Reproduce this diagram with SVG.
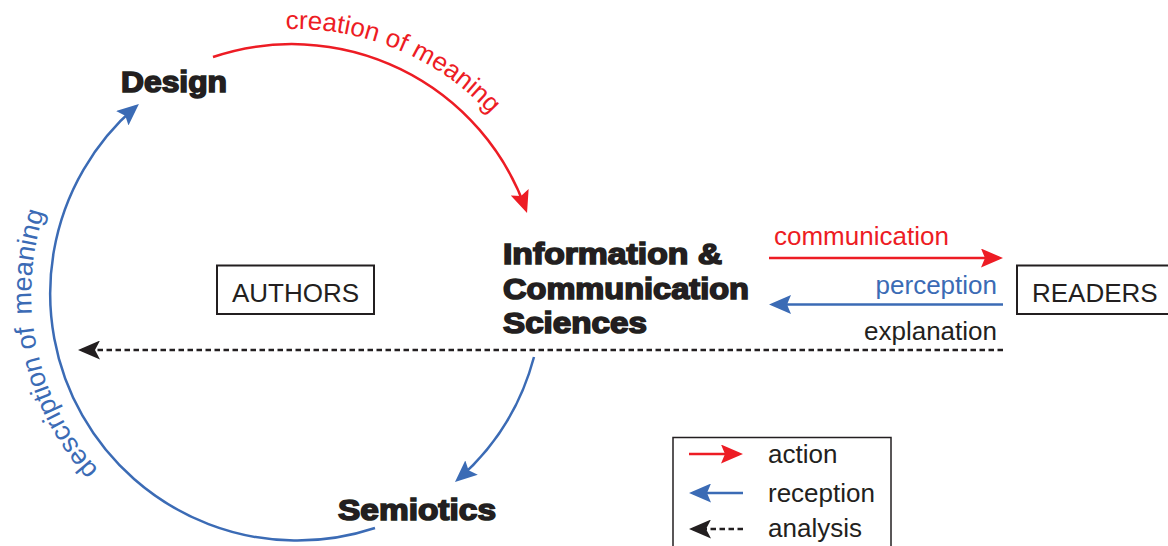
<svg xmlns="http://www.w3.org/2000/svg" width="1168" height="546" viewBox="0 0 1168 546">
<style>
.t{font-family:"Liberation Sans",Arial,sans-serif;font-size:26px;fill:#231f20}
.b{font-family:"Liberation Sans",Arial,sans-serif;font-size:29px;font-weight:bold;fill:#231f20;stroke:#231f20;stroke-width:1.6px}
.red{fill:#ed1c24}
.blue{fill:#3b6bb5}
.lr{fill:none;stroke:#ed1c24;stroke-width:2.5}
.lb{fill:none;stroke:#3b6bb5;stroke-width:2.5}
.lk{fill:none;stroke:#231f20;stroke-width:2.4;stroke-dasharray:5.5 3.5}
.box{fill:#fff;stroke:#231f20;stroke-width:2}
</style>
<defs>
<marker id="aR" markerUnits="userSpaceOnUse" viewBox="0 0 22 19" markerWidth="22" markerHeight="19" refX="18" refY="9.5" orient="auto"><path d="M0,0 L22,9.5 L0,19 L4,9.5 z" fill="#ed1c24"/></marker>
<marker id="aB" markerUnits="userSpaceOnUse" viewBox="0 0 22 19" markerWidth="22" markerHeight="19" refX="18" refY="9.5" orient="auto"><path d="M0,0 L22,9.5 L0,19 L4,9.5 z" fill="#3b6bb5"/></marker>
<marker id="aK" markerUnits="userSpaceOnUse" viewBox="0 0 22 19" markerWidth="22" markerHeight="19" refX="18" refY="9.5" orient="auto"><path d="M0,0 L22,9.5 L0,19 L5,9.5 z" fill="#231f20"/></marker>
<path id="pCreate" d="M285.7,29.2 A266,266 0 0,1 552,226"/>
<path id="pDesc" d="M98.5,470 A265,265 0 0,1 79,142"/>
</defs>

<g id="connectors">
<path id="c-creation" class="lr" d="M213,57 A248,248 0 0,1 525.7,209.2" marker-end="url(#aR)"/>
<path id="c-ics-semiotics" class="lb" d="M534,357 A247,247 0 0,1 458,479.4" marker-end="url(#aB)"/>
<path id="c-description" class="lb" d="M375,528 A247,247 0 0,1 135.9,106.5" marker-end="url(#aB)"/>
<path id="c-communication" class="lr" d="M769,258 L999,258" marker-end="url(#aR)"/>
<path id="c-perception" class="lb" d="M1003,304.5 L773,304.5" marker-end="url(#aB)"/>
<path id="c-explanation" class="lk" d="M1003,350 L82,350" marker-end="url(#aK)"/>
<text class="t red"><textPath href="#pCreate">creation of meaning</textPath></text>
<text class="t blue" style="font-size:27px"><textPath href="#pDesc">description of <tspan dx="4">meaning</tspan></textPath></text>
<text class="t red" x="774" y="245">communication</text>
<text class="t blue" x="997" y="294" text-anchor="end">perception</text>
<text class="t" x="997" y="340" text-anchor="end">explanation</text>
</g>

<g id="design"><text class="b" x="121" y="92" textLength="106" lengthAdjust="spacingAndGlyphs">Design</text></g>
<g id="ics">
<text class="b" x="503" y="264" textLength="219" lengthAdjust="spacingAndGlyphs">Information &amp;</text>
<text class="b" x="503" y="299" textLength="246" lengthAdjust="spacingAndGlyphs">Communication</text>
<text class="b" x="503" y="333" textLength="144" lengthAdjust="spacingAndGlyphs">Sciences</text>
</g>
<g id="semiotics"><text class="b" x="338" y="520" textLength="158" lengthAdjust="spacingAndGlyphs">Semiotics</text></g>

<g id="authors">
<rect class="box" x="217" y="265.5" width="157" height="48.5"/>
<text class="t" x="295.5" y="302" text-anchor="middle">AUTHORS</text>
</g>
<g id="readers">
<rect class="box" x="1017" y="265.5" width="170" height="48.5"/>
<text class="t" x="1032" y="302">READERS</text>
</g>

<g id="legend">
<rect x="673" y="437.5" width="218" height="130" fill="#fff" stroke="#231f20" stroke-width="1.5"/>
<path class="lr" d="M689,454 L739,454" marker-end="url(#aR)"/>
<path class="lb" d="M743,493 L693,493" marker-end="url(#aB)"/>
<path class="lk" d="M743,529 L693,529" marker-end="url(#aK)"/>
<text class="t" x="768" y="463">action</text>
<text class="t" x="768" y="502">reception</text>
<text class="t" x="768" y="537">analysis</text>
</g>
</svg>
